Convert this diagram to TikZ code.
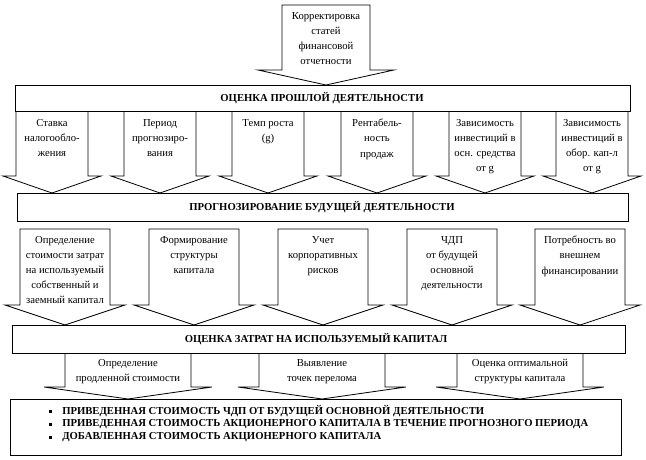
\documentclass[tikz,border=0pt]{standalone}
\usepackage{fontspec}
\setmainfont{Liberation Serif}
\tikzset{
	band/.style={draw, line width=0.6pt, fill=white},
	barrow/.style={draw, line width=0.6pt, fill=white, line join=miter},
	lbl/.style={align=center, inner sep=0pt, font=\fontsize{8}{11.3}\selectfont},
	head/.style={inner sep=0pt, font=\fontsize{8}{9.8}\selectfont\bfseries},
}
% блочная стрелка: x центра, верх, полуширина, полуширина крыльев, y крыльев, y острия
\newcommand{\blockarrow}[6]{%
	\draw[barrow] (#1-#3,#2) -- (#1+#3,#2) -- (#1+#3,#5) -- (#1+#4,#5) -- (#1,#6)
		-- (#1-#4,#5) -- (#1-#3,#5) -- cycle;}
\begin{document}
\begin{tikzpicture}[x=0.75pt, y=-0.75pt]
		\useasboundingbox (0,0) rectangle (646,460);
		% верхняя стрелка
		\blockarrow{326}{5}{44}{68}{70}{85}
		\node[lbl, anchor=north] (adjust) at (326,12) {Корректировка\\статей\\финансовой\\отчетности};
		% прошлое
		\foreach \cx/\txt [count=\i] in {52/{Ставка\\налогообло-\\жения}, 160/{Период\\прогнозиро-\\вания},
			268/{Темп роста\\(g)}, 377/{Рентабель-\\ность\\продаж},
			485/{Зависимость\\инвестиций в\\осн. средства\\от g}, 592/{Зависимость\\инвестиций в\\обор. кап-л\\от g}}{
			\blockarrow{\cx}{111}{36}{49}{176}{193}
			\node[lbl, anchor=north] (past\i) at (\cx,119) {\txt};
		}
		\draw[band] (15,85) rectangle (630,111);
		\node[head] (past) at (322,98) {ОЦЕНКА ПРОШЛОЙ ДЕЯТЕЛЬНОСТИ};
		% будущее
		\foreach \cx/\txt [count=\i] in {65/{Определение\\стоимости затрат\\на используемый\\собственный и\\заемный капитал},
			194/{Формирование\\структуры\\капитала}, 323/{Учет\\корпоративных\\рисков},
			452/{ЧДП\\от будущей\\основной\\деятельности}, 580/{Потребность во\\внешнем\\финансировании}}{
			\blockarrow{\cx}{229}{45}{60}{305}{325}
			\node[lbl, anchor=north] (fut\i) at (\cx,236) {\txt};
		}
		\draw[band] (17,193) rectangle (628,221);
		\node[head] (future) at (322,207) {ПРОГНОЗИРОВАНИЕ БУДУЩЕЙ ДЕЯТЕЛЬНОСТИ};
		% затраты на капитал
		\foreach \cx/\txt [count=\i] in {128/{Определение\\продленной стоимости}, 322/{Выявление\\точек перелома},
			520/{Оценка оптимальной\\структуры капитала}}{
			\blockarrow{\cx}{353}{63}{84}{387}{399}
			\node[lbl, anchor=north] (cost\i) at (\cx,359) {\txt};
		}
		\draw[band] (12,325) rectangle (625,353);
		\node[head] (cost) at (316,339) {ОЦЕНКА ЗАТРАТ НА ИСПОЛЬЗУЕМЫЙ КАПИТАЛ};
		% итог
		\draw[band] (10,399) rectangle (621,455);
		\foreach \y/\txt [count=\i] in {411/{ПРИВЕДЕННАЯ СТОИМОСТЬ ЧДП ОТ БУДУЩЕЙ ОСНОВНОЙ ДЕЯТЕЛЬНОСТИ},
			424/{ПРИВЕДЕННАЯ СТОИМОСТЬ АКЦИОНЕРНОГО КАПИТАЛА В ТЕЧЕНИЕ ПРОГНОЗНОГО ПЕРИОДА},
			437/{ДОБАВЛЕННАЯ СТОИМОСТЬ АКЦИОНЕРНОГО КАПИТАЛА}}{
			\fill (48.5,\y-1.5) rectangle (51.5,\y+1.5);
			\node[head, anchor=west] (res\i) at (62,\y) {\txt};
		}
	\end{tikzpicture}
\end{document}
